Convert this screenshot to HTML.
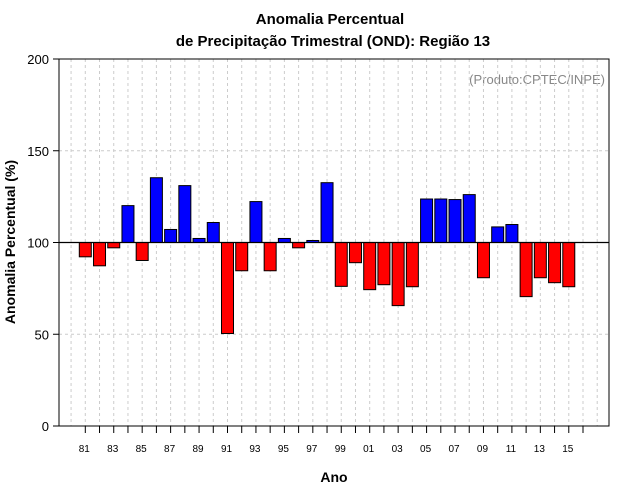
<!DOCTYPE html>
<html><head><meta charset="utf-8"><style>
html,body{margin:0;padding:0;background:#fff;}
svg{display:block;font-family:"Liberation Sans",sans-serif;}
</style></head><body>
<svg id="chart" width="640" height="500">
<text x="330" y="24" text-anchor="middle" font-size="15" font-weight="bold">Anomalia Percentual</text>
<text x="333" y="46" text-anchor="middle" font-size="15" font-weight="bold">de Precipitação Trimestral (OND): Região 13</text>
<text x="605" y="84" text-anchor="end" font-size="13" fill="#888">(Produto:CPTEC/INPE)</text>
<text x="334" y="482" text-anchor="middle" font-size="14" font-weight="bold">Ano</text>
<text transform="translate(15,242) rotate(-90)" text-anchor="middle" font-size="14" font-weight="bold">Anomalia Percentual (%)</text>
<g id="grid"></g><g id="bars"></g><g id="axes"></g>
</svg>
<script>
const years=[1981,1982,1983,1984,1985,1986,1987,1988,1989,1990,1991,1992,1993,1994,1995,1996,1997,1998,1999,2000,2001,2002,2003,2004,2005,2006,2007,2008,2009,2010,2011,2012,2013,2014,2015];
const values=[92.2,87.3,97.1,120.1,90.2,135.3,107.1,131,102.2,110.9,50.4,84.6,122.3,84.6,102.2,97.1,101.1,132.6,76.1,89,74.3,77,65.6,75.9,123.7,123.7,123.4,126.1,80.8,108.5,109.8,70.5,80.8,78.1,75.9];
const yTicks=[0,50,100,150,200];
const xLabelYears=[1981,1983,1985,1987,1989,1991,1993,1995,1997,1999,2001,2003,2005,2007,2009,2011,2013,2015];
const NS='http://www.w3.org/2000/svg';
const L=59,R=609,T=59,B=426;
function x(yr){return 85.3+(yr-1981)*14.22;}
function y(v){return B-(v/200)*(B-T);}
function mk(tag,attrs,parent){const e=document.createElementNS(NS,tag);for(const k in attrs)e.setAttribute(k,attrs[k]);document.getElementById(parent).appendChild(e);return e;}
// vertical grid
for(let yr=1980;yr<=2017;yr++){const gx=x(yr);if(gx<=L||gx>=R)continue;
const g=mk('line',{x1:gx,x2:gx,y1:T,y2:B,stroke:'#ccc','stroke-dasharray':'3,3'},'grid');

}
yTicks.forEach(v=>{if(v===0||v===200||v===100)return;
const g=mk('line',{x1:L,x2:R,y1:y(v),y2:y(v),stroke:'#ccc','stroke-dasharray':'3,3'},'grid');

});
// bars
years.forEach((yr,i)=>{const v=values[i];const top=Math.min(y(v),y(100));const h=Math.abs(y(v)-y(100));
const b=mk('rect',{x:x(yr)-6,y:top,width:12,height:Math.max(h,1),fill:v>=100?'#0000ff':'#ff0000',stroke:'#000','stroke-width':1},'bars');

});
// reference line
const rl=mk('line',{x1:L,x2:R,y1:y(100),y2:y(100),stroke:'#000','stroke-width':1.2},'axes');


const box=mk('rect',{x:L,y:T,width:R-L,height:B-T,fill:'none',stroke:'#000','stroke-width':1},'axes');


yTicks.forEach(v=>{
const t=mk('line',{x1:L-6,x2:L,y1:y(v),y2:y(v),stroke:'#000'},'axes');


const tx=mk('text',{x:L-10,y:y(v)+5,'text-anchor':'end','font-size':13},'axes');tx.textContent=v;

});
for(let yr=1981;yr<=2016;yr++){
const t=mk('line',{x1:x(yr),x2:x(yr),y1:B,y2:B+7,stroke:'#000'},'axes');

}
xLabelYears.forEach(yr=>{
const tx=mk('text',{x:x(yr)-1,y:452,'text-anchor':'middle','font-size':10},'axes');tx.textContent=String(yr%100).padStart(2,'0');

});
</script>
</body></html>
